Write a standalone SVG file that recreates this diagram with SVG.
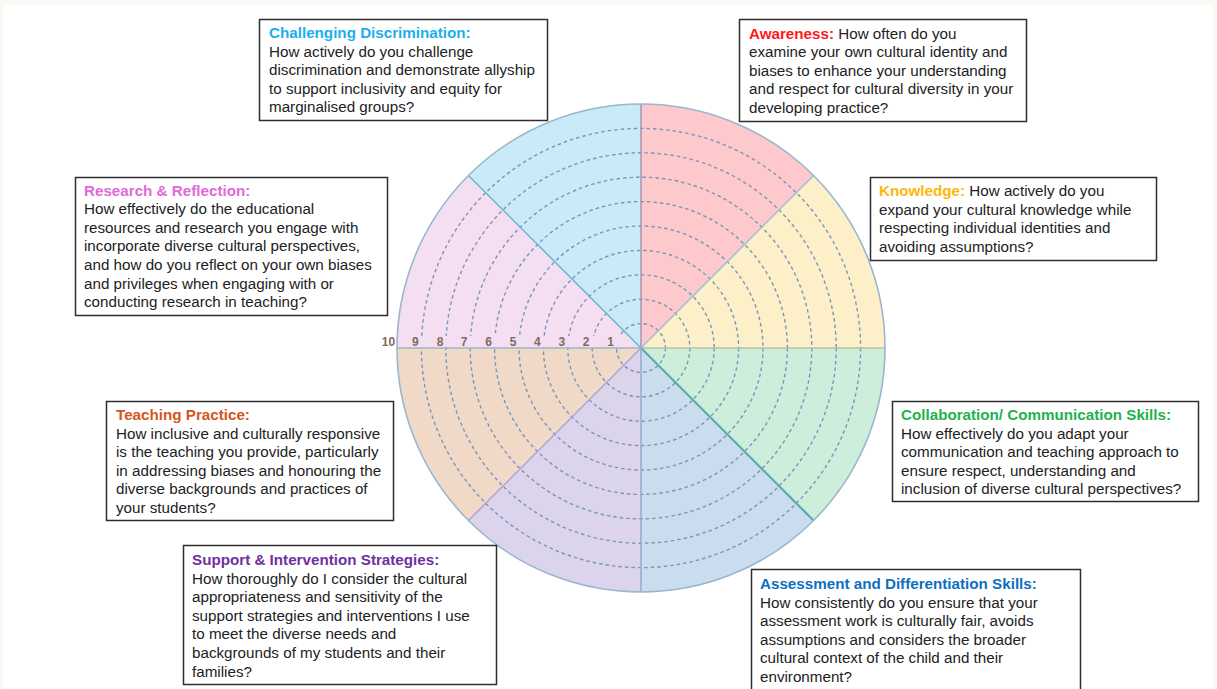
<svg xmlns="http://www.w3.org/2000/svg" width="1217" height="689" viewBox="0 0 1217 689">
<style>
.box{fill:#fff;stroke:#2e2e2e;stroke-width:1.5}
.t{font-family:"Liberation Sans",Arial,sans-serif;font-size:15.2px;fill:#222}
.h{font-weight:bold}
.ring{fill:none;stroke:#7896b9;stroke-width:1.4;stroke-dasharray:3.5 3}
.num{font-family:"Liberation Sans",Arial,sans-serif;font-size:12px;font-weight:bold;fill:#7f6c60;text-anchor:middle}
.div{stroke-width:1.5}
</style>
<rect x="0" y="0" width="1217" height="689" fill="#fcf8f3"/>
<rect x="3" y="5" width="1210" height="684" fill="#ffffff"/>
<g id="wheel">
<path d="M641,348 L641,104 A244,244 0 0 1 813.53,175.47 Z" fill="#fdc9cc"/>
<path d="M641,348 L813.53,175.47 A244,244 0 0 1 885,348 Z" fill="#fdf0c9"/>
<path d="M641,348 L885,348 A244,244 0 0 1 813.53,520.53 Z" fill="#cdeedb"/>
<path d="M641,348 L813.53,520.53 A244,244 0 0 1 641,592 Z" fill="#c9ddef"/>
<path d="M641,348 L641,592 A244,244 0 0 1 468.47,520.53 Z" fill="#dcd4ec"/>
<path d="M641,348 L468.47,520.53 A244,244 0 0 1 397,348 Z" fill="#f1d9c8"/>
<path d="M641,348 L397,348 A244,244 0 0 1 468.47,175.47 Z" fill="#f4def2"/>
<path d="M641,348 L468.47,175.47 A244,244 0 0 1 641,104 Z" fill="#c9eaf7"/>
<circle cx="641" cy="348" r="24.4" class="ring"/>
<circle cx="641" cy="348" r="48.8" class="ring"/>
<circle cx="641" cy="348" r="73.2" class="ring"/>
<circle cx="641" cy="348" r="97.6" class="ring"/>
<circle cx="641" cy="348" r="122" class="ring"/>
<circle cx="641" cy="348" r="146.4" class="ring"/>
<circle cx="641" cy="348" r="170.8" class="ring"/>
<circle cx="641" cy="348" r="195.2" class="ring"/>
<circle cx="641" cy="348" r="219.6" class="ring"/>
<rect x="398" y="336" width="230" height="11.3" fill="#f4def2"/>
<line x1="641" y1="348" x2="641" y2="104" class="div" stroke="#a493b8"/>
<line x1="641" y1="348" x2="813.53" y2="175.47" class="div" stroke="#9fbfd4"/>
<line x1="641" y1="348" x2="885" y2="348" class="div" stroke="#b9c2a2"/>
<line x1="641" y1="348" x2="813.53" y2="520.53" stroke="#5fa9ab" stroke-width="2.2"/>
<line x1="641" y1="348" x2="641" y2="592" class="div" stroke="#99a9d2"/>
<line x1="641" y1="348" x2="468.47" y2="520.53" class="div" stroke="#aaa8d2"/>
<line x1="641" y1="348" x2="397" y2="348" class="div" stroke="#9cb6c6"/>
<line x1="641" y1="348" x2="468.47" y2="175.47" class="div" stroke="#72b2d2"/>
<circle cx="641" cy="348" r="244" fill="none" stroke="#9ab6cf" stroke-width="1.6"/>
<text class="num" x="388.5" y="346">10</text>
<text class="num" x="415.4" y="346">9</text>
<text class="num" x="440" y="346">8</text>
<text class="num" x="464.2" y="346">7</text>
<text class="num" x="488.6" y="346">6</text>
<text class="num" x="513" y="346">5</text>
<text class="num" x="537.4" y="346">4</text>
<text class="num" x="561.8" y="346">3</text>
<text class="num" x="586.2" y="346">2</text>
<text class="num" x="610.6" y="346">1</text>
</g>
<g id="challenging">
<rect class="box" x="259.5" y="19.5" width="288" height="101"/>
<text class="t" x="269" y="38"><tspan class="h" fill="#1aaef0">Challenging Discrimination:</tspan><tspan x="269" dy="18.6">How actively do you challenge</tspan><tspan x="269" dy="18.6">discrimination and demonstrate allyship</tspan><tspan x="269" dy="18.6">to support inclusivity and equity for</tspan><tspan x="269" dy="18.6">marginalised groups?</tspan></text>
</g>
<g id="awareness">
<rect class="box" x="739.5" y="19.5" width="287" height="102"/>
<text class="t" x="749" y="38.5"><tspan class="h" fill="#ff1a1a">Awareness:</tspan> How often do you<tspan x="749" dy="18.6">examine your own cultural identity and</tspan><tspan x="749" dy="18.6">biases to enhance your understanding</tspan><tspan x="749" dy="18.6">and respect for cultural diversity in your</tspan><tspan x="749" dy="18.6">developing practice?</tspan></text>
</g>
<g id="research">
<rect class="box" x="75.5" y="177.5" width="312" height="138"/>
<text class="t" x="84" y="195.5"><tspan class="h" fill="#e06ad8">Research &amp; Reflection:</tspan><tspan x="84" dy="18.6">How effectively do the educational</tspan><tspan x="84" dy="18.6">resources and research you engage with</tspan><tspan x="84" dy="18.6">incorporate diverse cultural perspectives,</tspan><tspan x="84" dy="18.6">and how do you reflect on your own biases</tspan><tspan x="84" dy="18.6">and privileges when engaging with or</tspan><tspan x="84" dy="18.6">conducting research in teaching?</tspan></text>
</g>
<g id="knowledge">
<rect class="box" x="870.5" y="177.5" width="286" height="83"/>
<text class="t" x="879" y="196"><tspan class="h" fill="#ffb60a">Knowledge:</tspan> How actively do you<tspan x="879" dy="18.6">expand your cultural knowledge while</tspan><tspan x="879" dy="18.6">respecting individual identities and</tspan><tspan x="879" dy="18.6">avoiding assumptions?</tspan></text>
</g>
<g id="teaching">
<rect class="box" x="106.5" y="401.5" width="287" height="119"/>
<text class="t" x="116" y="420"><tspan class="h" fill="#d4561e">Teaching Practice:</tspan><tspan x="116" dy="18.6">How inclusive and culturally responsive</tspan><tspan x="116" dy="18.6">is the teaching you provide, particularly</tspan><tspan x="116" dy="18.6">in addressing biases and honouring the</tspan><tspan x="116" dy="18.6">diverse backgrounds and practices of</tspan><tspan x="116" dy="18.6">your students?</tspan></text>
</g>
<g id="collaboration">
<rect class="box" x="892.5" y="401.5" width="306" height="100"/>
<text class="t" x="901" y="420"><tspan class="h" fill="#22b24c">Collaboration/ Communication Skills:</tspan><tspan x="901" dy="18.6">How effectively do you adapt your</tspan><tspan x="901" dy="18.6">communication and teaching approach to</tspan><tspan x="901" dy="18.6">ensure respect, understanding and</tspan><tspan x="901" dy="18.6">inclusion of diverse cultural perspectives?</tspan></text>
</g>
<g id="support">
<rect class="box" x="183.5" y="545.5" width="313" height="139"/>
<text class="t" x="192" y="565"><tspan class="h" fill="#7030a0">Support &amp; Intervention Strategies:</tspan><tspan x="192" dy="18.6">How thoroughly do I consider the cultural</tspan><tspan x="192" dy="18.6">appropriateness and sensitivity of the</tspan><tspan x="192" dy="18.6">support strategies and interventions I use</tspan><tspan x="192" dy="18.6">to meet the diverse needs and</tspan><tspan x="192" dy="18.6">backgrounds of my students and their</tspan><tspan x="192" dy="18.6">families?</tspan></text>
</g>
<g id="assessment">
<rect class="box" x="751.5" y="569.5" width="329" height="125"/>
<text class="t" x="760" y="589"><tspan class="h" fill="#0b6fc2">Assessment and Differentiation Skills:</tspan><tspan x="760" dy="18.6">How consistently do you ensure that your</tspan><tspan x="760" dy="18.6">assessment work is culturally fair, avoids</tspan><tspan x="760" dy="18.6">assumptions and considers the broader</tspan><tspan x="760" dy="18.6">cultural context of the child and their</tspan><tspan x="760" dy="18.6">environment?</tspan></text>
</g>
</svg>
